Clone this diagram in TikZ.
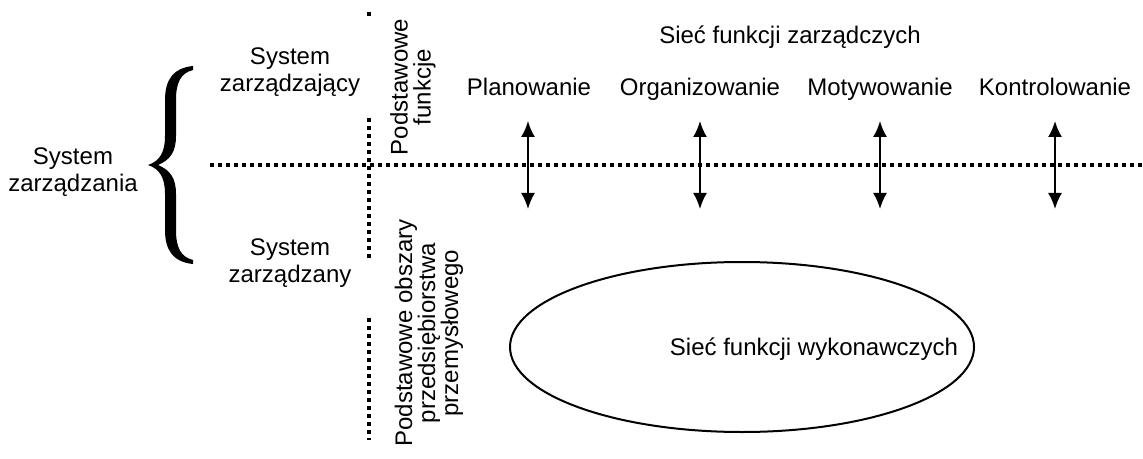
\documentclass[tikz,border=0pt]{standalone}
\usepackage{fontspec}
\setmainfont{Liberation Sans}
\usetikzlibrary{arrows.meta,shapes.geometric}

\begin{document}
\begin{tikzpicture}[x=0.5pt,y=-0.5pt,
  lbl/.style={font=\fontsize{12}{13.5}\selectfont, align=center, inner sep=0pt},
  fn/.style={lbl, anchor=base},
  rlbl/.style={lbl, rotate=90, font=\fontsize{12}{11.5}\selectfont},
  dotline/.style={line width=2.3pt, dash pattern=on 2.2pt off 1.8pt},
  link/.style={line width=1pt, {Latex[length=8pt,width=7pt]}-{Latex[length=8pt,width=7pt]}},
]
\useasboundingbox (0,0) rectangle (1143,459);

% management system and its brace
\node[lbl] (zarzadzania) at (73,172) {System\\zarządzania};
\fill (193,66) .. controls (173,68) and (165,80) .. (165,100) -- (165,136)
  .. controls (165,152) and (160,161) .. (148,165)
  .. controls (160,169) and (165,178) .. (165,194) -- (165,230)
  .. controls (165,250) and (173,262) .. (193,264) -- (193,260)
  .. controls (181,257) and (176,248) .. (176,230) -- (176,194)
  .. controls (176,178) and (170,170) .. (158,165)
  .. controls (170,160) and (176,152) .. (176,136) -- (176,100)
  .. controls (176,82) and (181,73) .. (193,70) -- cycle;

\node[lbl] (zarzadzajacy) at (290,72) {System\\zarządzający};
\node[lbl] (zarzadzany) at (290,263) {System\\zarządzany};

% dotted separators
\coordinate (hl) at (210,165);
\coordinate (hr) at (1143,165);
\draw[dotline] (hl) -- (hr);
\coordinate (v0a) at (369,12);
\coordinate (v0b) at (369,16);
\coordinate (v1a) at (369,118);
\coordinate (v1b) at (369,258);
\coordinate (v2a) at (369,318);
\coordinate (v2b) at (369,440);
\draw[dotline] (v0a) -- (v0b);
\draw[dotline] (v1a) -- (v1b);
\draw[dotline] (v2a) -- (v2b);

\node[rlbl] (podfun) at (413,87) {Podstawowe\\funkcje};
\node[rlbl] (podobs) at (429,333) {Podstawowe obszary\\przedsiębiorstwa\\przemysłowego};

% management functions
\node[fn] (siec) at (790,44) {Sieć funkcji zarządczych};
\node[fn] (plan) at (529,96) {Planowanie};
\node[fn] (org) at (700,96) {Organizowanie};
\node[fn] (mot) at (880,96) {Motywowanie};
\node[fn] (kon) at (1055,96) {Kontrolowanie};

\foreach \n/\x in {a/528, b/700, c/880, d/1055}{
  \coordinate (\n1) at (\x,121);
  \coordinate (\n2) at (\x,209);
  \draw[link] (\n1) -- (\n2);
}

% executive functions
\node[draw, ellipse, line width=1pt, minimum width=232pt, minimum height=85pt,
  inner sep=0pt] (wyk) at (742,347) {};
\node[fn] (wyktxt) at (814,355) {Sieć funkcji wykonawczych};
\end{tikzpicture}
\end{document}
